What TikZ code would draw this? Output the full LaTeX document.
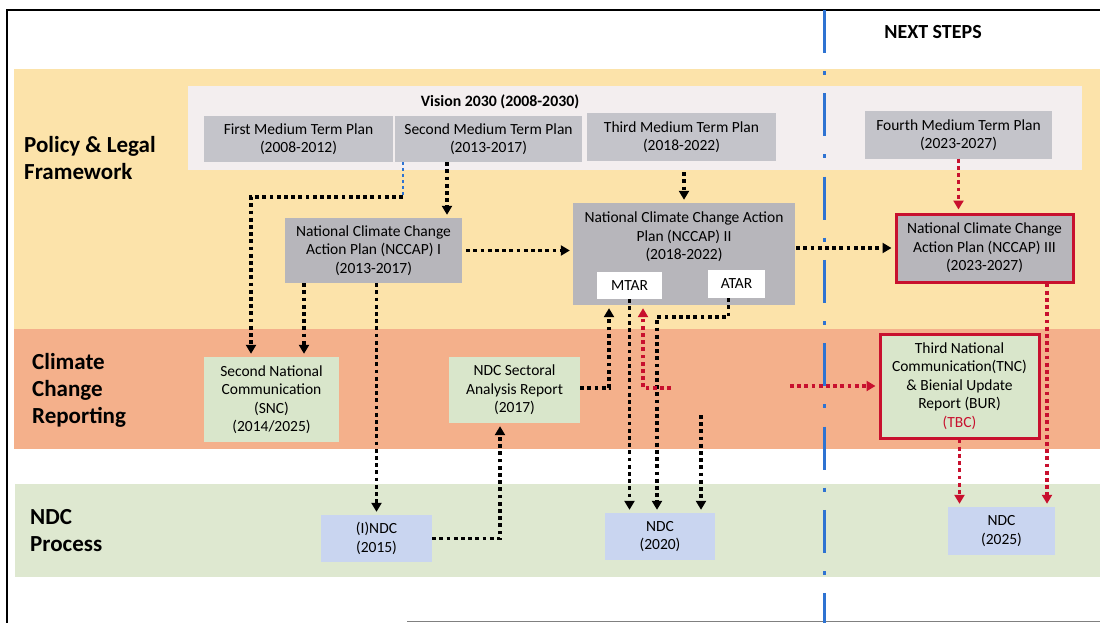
\documentclass[tikz,border=0pt]{standalone}
\usepackage{fontspec}
\setmainfont{Carlito}
\usetikzlibrary{arrows.meta, positioning, calc}
\definecolor{bandYellow}{HTML}{FCE3AA}
\definecolor{bandOrange}{HTML}{F4B08B}
\definecolor{bandGreen}{HTML}{DEE8D0}
\definecolor{visionPink}{HTML}{F3EEEF}
\definecolor{mtpGray}{HTML}{C4C4CA}
\definecolor{nccapGray}{HTML}{B7B6BB}
\definecolor{boxGreen}{HTML}{D9E6CB}
\definecolor{boxBlue}{HTML}{C9D5F0}
\definecolor{frameRed}{HTML}{C8102E}
\definecolor{lineBlue}{HTML}{2E73D2}

\begin{document}
\begin{tikzpicture}[x=1pt, y=-1pt, >={Triangle[length=9pt,width=10pt]},
    box/.style={inner sep=0pt, align=center, font=\fontsize{15.5}{18.5}\selectfont},
    mtp/.style={box, fill=mtpGray},
    nccap/.style={box, fill=nccapGray},
    report/.style={box, fill=boxGreen},
    ndc/.style={box, fill=boxBlue},
    tag/.style={box, fill=white},
    redframe/.style={draw=frameRed, line width=3pt},
    rowlabel/.style={anchor=west, align=left, inner sep=0pt, font=\fontsize{23}{27}\selectfont\bfseries},
    flow/.style={->, line width=3.5pt, dash pattern=on 3.8pt off 3.4pt, shorten >=3pt},
    redflow/.style={flow, draw=frameRed},
    bluedots/.style={line width=2.5pt, lineBlue, dash pattern=on 3pt off 3pt}]
    \useasboundingbox (0,0) rectangle (1100,623);
    \fill[white] (0,0) rectangle (1100,623);

    % bands
    \fill[bandYellow] (14,69) rectangle (1100,329);
    \fill[bandOrange] (14,329) rectangle (1100,449);
    \fill[bandGreen] (15,484) rectangle (1100,577);
    \fill[visionPink] (188,86) rectangle (1082,170);

    % frame
    \draw[line width=1.5pt] (1100,10) -- (7,10) -- (7,623);
    \draw[gray, line width=1pt] (407,621) -- (1100,621);

    \node[rowlabel] (policy) at (24,158) {Policy \& Legal\\Framework};
    \node[rowlabel] (reporting) at (32,390) {Climate\\Change\\Reporting};
    \node[rowlabel] (process) at (30,531) {NDC\\Process};
    \node[font=\fontsize{20}{24}\selectfont\bfseries] (next) at (933,32) {NEXT STEPS};
    \node[font=\fontsize{15.8}{18}\selectfont\bfseries] (vision) at (500,102) {Vision 2030 (2008-2030)};

    % medium term plans
    \node[mtp, minimum width=189pt, minimum height=46pt] (fmtp) at (298.5,139) {First Medium Term Plan\\(2008-2012)};
    \node[mtp, minimum width=187pt, minimum height=46pt] (smtp) at (488.5,139) {Second Medium Term Plan\\(2013-2017)};
    \node[mtp, minimum width=189pt, minimum height=48pt] (tmtp) at (681.5,137) {Third Medium Term Plan\\(2018-2022)};
    \node[mtp, minimum width=187pt, minimum height=47pt] (fomtp) at (958.5,135) {Fourth Medium Term Plan\\(2023-2027)};

    % action plans
    \node[nccap, minimum width=177pt, minimum height=65pt] (nccap1) at (373.5,250.5) {National Climate Change\\Action Plan (NCCAP) I\\(2013-2017)};
    \node[nccap, minimum width=222pt, minimum height=102pt] (nccap2) at (684,254) {};
    \node[box, anchor=north] (nccap2txt) at ([yshift=-9pt]nccap2.north) {National Climate Change Action\\Plan (NCCAP) II\\(2018-2022)};
    \node[nccap, redframe, minimum width=177pt, minimum height=68pt] (nccap3) at (984.5,248) {National Climate Change\\Action Plan (NCCAP) III\\(2023-2027)};
    \node[tag, minimum width=65pt, minimum height=27pt] (mtar) at (629.5,285.5) {MTAR};
    \node[tag, minimum width=57pt, minimum height=28pt] (atar) at (736.5,284) {ATAR};

    % reporting
    \node[report, minimum width=135pt, minimum height=85pt] (snc) at (271.5,399.5) {Second National\\Communication\\(SNC)\\(2014/2025)};
    \node[report, minimum width=131pt, minimum height=66pt] (ndcsec) at (514.5,390) {NDC Sectoral\\Analysis Report\\(2017)};
    \node[report, redframe, minimum width=159pt, minimum height=104pt] (tnc) at (959.5,386) {Third National\\Communication(TNC)\\\& Bienial Update\\Report (BUR)\\{\color{frameRed}(TBC)}};

    % ndc
    \node[ndc, minimum width=111pt, minimum height=47pt] (indc) at (376.5,538.5) {(I)NDC\\(2015)};
    \node[ndc, minimum width=110pt, minimum height=47pt] (ndc20) at (660,536.5) {NDC\\(2020)};
    \node[ndc, minimum width=107pt, minimum height=48pt] (ndc25) at (1001.5,531) {NDC\\(2025)};

    % divider
    \draw[lineBlue, line width=3pt, dash pattern=on 43pt off 18pt on 4pt off 18.3pt] (824,10) -- (824,623);

    % connectors
    \coordinate (turn1) at (403,197);
    \coordinate (turn2) at (251,197);
    \draw[bluedots] ([xshift=-85.5pt]smtp.south) -- (turn1);
    \draw[flow] (turn1) -- (turn2) -- (turn2 |- snc.north);
    \draw[flow] ([xshift=-41.5pt]smtp.south) -- ([xshift=73.5pt]nccap1.north);
    \draw[flow] ([xshift=-69.5pt]nccap1.south) -- ([xshift=32.5pt]snc.north);
    \draw[flow] (nccap1.south -| indc.north) -- (indc.north);
    \draw[flow, shorten <=4pt] (nccap1.east) -- (nccap1.east -| nccap2.west);
    \draw[flow, shorten <=11pt] (tmtp.south -| nccap2.north) -- (nccap2.north);
    \draw[flow, shorten <=1pt] (nccap3.west -| nccap2.east) -- (nccap3.west);
    \draw[redflow] (fomtp.south) -- (fomtp.south |- nccap3.north);
    \draw[flow] ([yshift=2pt]ndcsec.east) -| ([xshift=-75pt]nccap2.south);
    \draw[flow] (mtar.south) -- (mtar.south |- ndc20.north);
    \draw[flow] ([xshift=-8pt]atar.south) -- ++(0,19) -| ([xshift=-3pt]ndc20.north);
    \coordinate (loose) at (701,415);
    \draw[flow] (loose) -- (loose |- ndc20.north);
    \coordinate (redback) at (671,388);
    \draw[redflow] (redback) -| ([xshift=-41pt]nccap2.south);
    \coordinate (redin) at (790,386);
    \draw[redflow] (redin) -- (tnc.west);
    \draw[redflow] (tnc.south) -- (tnc.south |- ndc25.north);
    \draw[redflow] ([xshift=62.5pt]nccap3.south) -- ([xshift=62.5pt]nccap3.south |- ndc25.north);
    \draw[flow] (indc.east) -| ([xshift=-14.5pt]ndcsec.south);
\end{tikzpicture}
\end{document}
